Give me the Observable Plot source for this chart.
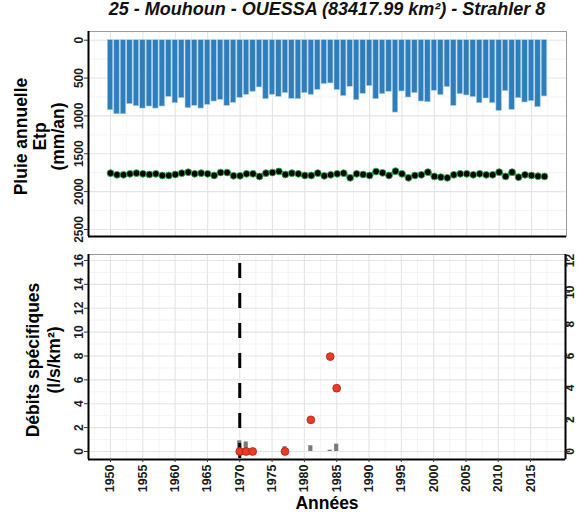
<!DOCTYPE html>
<html>
<head>
<meta charset="utf-8">
<script src="https://cdn.jsdelivr.net/npm/d3@7"></script>
<script src="https://cdn.jsdelivr.net/npm/@observablehq/plot@0.6"></script>
<style>
  html, body { margin: 0; padding: 0; background: #ffffff; }
  #wrap { position: relative; width: 586px; height: 517px; overflow: hidden;
          font-family: "Liberation Sans", Arial, Helvetica, sans-serif; }
  #title { position: absolute; left: 88px; width: 478px; top: -1px; line-height: 20px;
           text-align: center; font-size: 18px; font-weight: bold; font-style: italic; color: #111; }
  #top { position: absolute; left: 0; top: 0; }
  #bottom { position: absolute; left: 0; top: 240px; }
  svg text { font-weight: bold; }
</style>
</head>
<body>
<div id="wrap">
  <div id="top"></div>
  <div id="bottom"></div>
  <div id="title"></div>
</div>
<script>
// ---------------- data ----------------
const titleText = "25 - Mouhoun - OUESSA (83417.99 km²) - Strahler 8";
const yTitleTop = ["Pluie annuelle", "Etp", "(mm/an)"];
const yTitleBottom = ["Débits spécifiques", "(l/s/km²)"];
const xTitle = "Années";

const years = [1950,1951,1952,1953,1954,1955,1956,1957,1958,1959,
               1960,1961,1962,1963,1964,1965,1966,1967,1968,1969,
               1970,1971,1972,1973,1974,1975,1976,1977,1978,1979,
               1980,1981,1982,1983,1984,1985,1986,1987,1988,1989,
               1990,1991,1992,1993,1994,1995,1996,1997,1998,1999,
               2000,2001,2002,2003,2004,2005,2006,2007,2008,2009,
               2010,2011,2012,2013,2014,2015,2016,2017];
// annual rainfall (mm/an)
const rain = [925,978,978,845,872,903,876,903,876,748,
              832,765,898,867,903,854,810,788,867,827,
              761,721,681,624,779,721,748,699,774,779,
              699,721,655,580,571,659,739,615,792,708,
              606,779,712,681,956,677,757,699,810,819,
              668,726,619,867,712,730,752,832,770,832,
              934,673,920,765,823,805,885,743];
// annual potential evapotranspiration (mm/an)
const etp = [1756,1778,1778,1765,1756,1765,1774,1765,1787,1787,
             1774,1756,1744,1765,1756,1765,1787,1748,1748,1791,
             1791,1765,1765,1800,1756,1748,1734,1774,1756,1765,
             1787,1787,1756,1792,1778,1765,1756,1818,1765,1774,
             1787,1735,1752,1787,1730,1765,1818,1787,1778,1743,
             1800,1809,1818,1778,1765,1765,1778,1765,1778,1778,
             1743,1800,1743,1809,1778,1787,1796,1800];

// specific discharge (l/s/km²), left axis
const flowYears  = [1970, 1971, 1972, 1977, 1981, 1984, 1985];
const flowValues = [0, 0, 0, 0, 2.65, 7.95, 5.3];
// secondary series, right axis
const grayYears  = [1970, 1971, 1977, 1981, 1984, 1985];
const grayValues = [0.67, 0.6, 0.3, 0.36, 0.08, 0.46];
// event marker
const eventYears = [1970];

// ticks
const xTicks = [1950,1955,1960,1965,1970,1975,1980,1985,1990,1995,2000,2005,2010,2015];
const xMinor = [1947.5,1952.5,1957.5,1962.5,1967.5,1972.5,1977.5,1982.5,1987.5,1992.5,1997.5,2002.5,2007.5,2012.5,2017.5];
const rainTicks = [0,500,1000,1500,2000,2500];
const rainMinor = [250,750,1250,1750,2250];
const leftTicks = [0,2,4,6,8,10,12,14,16];
const leftMinor = [1,3,5,7,9,11,13,15];
const rightTicks = [0,2,4,6,8,10,12];

// ---------------- config ----------------
const xDomain = [1946.6, 2020.4];
const topDomain = [-115, 2593];
const botDomain = [-0.67, 16.5];
const rightMax = 12, leftAtRightMax = 16;
const ratio = leftAtRightMax / rightMax;

const font = '"Liberation Sans", Arial, Helvetica, sans-serif';
const majorGrid = {stroke: "#e4e4e4", strokeOpacity: 1, strokeWidth: 1.1};
const minorGrid = {stroke: "#efefef", strokeOpacity: 1, strokeWidth: 0.7};
const tickText = {fontSize: 12, fontWeight: "bold", fill: "#1a1a1a"};

const rainData = years.map((year, i) => ({year, rain: rain[i], etp: etp[i]}));
const flowData = flowYears.map((year, i) => ({year, q: flowValues[i]}));
const grayData = grayYears.map((year, i) => ({year, v: grayValues[i]}));

document.getElementById("title").textContent = titleText;

// ---------------- top panel ----------------
const topPlot = Plot.plot({
  width: 586, height: 240,
  marginLeft: 88, marginRight: 20, marginTop: 31, marginBottom: 4,
  style: {fontFamily: font, background: "transparent", overflow: "visible"},
  x: {domain: xDomain, axis: null},
  y: {domain: topDomain, reverse: true, axis: null},
  marks: [
    Plot.gridX(xMinor, minorGrid),
    Plot.gridX(xTicks, majorGrid),
    Plot.gridY(rainMinor, minorGrid),
    Plot.gridY(rainTicks, majorGrid),
    Plot.rectY(rainData, {x1: d => d.year - 0.42, x2: d => d.year + 0.42, y: "rain",
      fill: "#2f7ebc", stroke: "#a9cbe8", strokeWidth: 0.6}),
    Plot.line(rainData, {x: "year", y: "etp", stroke: "#2fae48", strokeWidth: 3}),
    Plot.dot(rainData, {x: "year", y: "etp", r: 3.4, fill: "#000", stroke: "#2fae48", strokeWidth: 0.9}),
    Plot.frame({stroke: "#9a9a9a", strokeWidth: 1}),
    Plot.ruleX([xDomain[0]], {stroke: "#000", strokeWidth: 2}),
    Plot.ruleY([topDomain[1]], {stroke: "#000", strokeWidth: 2}),
    Plot.axisY(rainTicks, {anchor: "left", tickRotate: -90, tickSize: 4, tickPadding: 2,
      label: null, stroke: "#333", tickFormat: d => String(d), ...tickText}),
    Plot.text([yTitleTop.join("\n")], {frameAnchor: "left", dx: -49, dy: 2.5, rotate: -90,
      lineAnchor: "middle", textAnchor: "middle", lineHeight: 1.08,
      fontSize: 17.5, fontWeight: "bold", fill: "#000"})
  ]
});
document.getElementById("top").appendChild(topPlot);

// ---------------- bottom panel ----------------
const botPlot = Plot.plot({
  width: 586, height: 277,
  marginLeft: 88, marginRight: 21, marginTop: 14, marginBottom: 58,
  style: {fontFamily: font, background: "transparent", overflow: "visible"},
  x: {domain: xDomain, axis: null},
  y: {domain: botDomain, axis: null},
  marks: [
    Plot.gridX(xMinor, minorGrid),
    Plot.gridX(xTicks, majorGrid),
    Plot.gridY(leftMinor, minorGrid),
    Plot.gridY(leftTicks, majorGrid),
    Plot.rectY(grayData, {x1: d => d.year - 0.32, x2: d => d.year + 0.32, y: d => d.v * ratio,
      fill: "#7a7a7a"}),
    Plot.ruleX(eventYears, {stroke: "#000", strokeWidth: 3, strokeDasharray: "15,15", strokeDashoffset: 21}),
    Plot.dot(flowData, {x: "year", y: "q", r: 3.9, fill: "#ee3a22", stroke: "#a82010", strokeWidth: 0.8}),
    Plot.frame({stroke: "#9a9a9a", strokeWidth: 1}),
    Plot.ruleX([xDomain[0]], {stroke: "#000", strokeWidth: 2}),
    Plot.ruleX([xDomain[1]], {stroke: "#000", strokeWidth: 2}),
    Plot.ruleY([botDomain[0]], {stroke: "#000", strokeWidth: 2}),
    Plot.axisY(leftTicks, {anchor: "left", tickRotate: -90, tickSize: 4, tickPadding: 2,
      label: null, stroke: "#333", tickFormat: d => String(d), ...tickText}),
    Plot.axisY(rightTicks.map(v => v * ratio), {anchor: "right", tickRotate: -90, tickSize: 4, tickPadding: 4,
      label: null, stroke: "#333", tickFormat: (d, i) => String(rightTicks[i]), ...tickText}),
    Plot.axisX(xTicks, {anchor: "bottom", tickRotate: -90, tickSize: 3, tickPadding: 2,
      label: null, stroke: "#333", tickFormat: d => String(d), ...tickText, fontSize: 12.5}),
    Plot.text([xTitle], {frameAnchor: "bottom", dy: 44, lineAnchor: "middle",
      fontSize: 17.5, fontWeight: "bold", fill: "#000"}),
    Plot.text([yTitleBottom.join("\n")], {frameAnchor: "left", dx: -45.5, dy: 3, rotate: -90,
      lineAnchor: "middle", textAnchor: "middle", lineHeight: 1.2,
      fontSize: 17.5, fontWeight: "bold", fill: "#000"})
  ]
});
document.getElementById("bottom").appendChild(botPlot);
</script>
</body>
</html>
